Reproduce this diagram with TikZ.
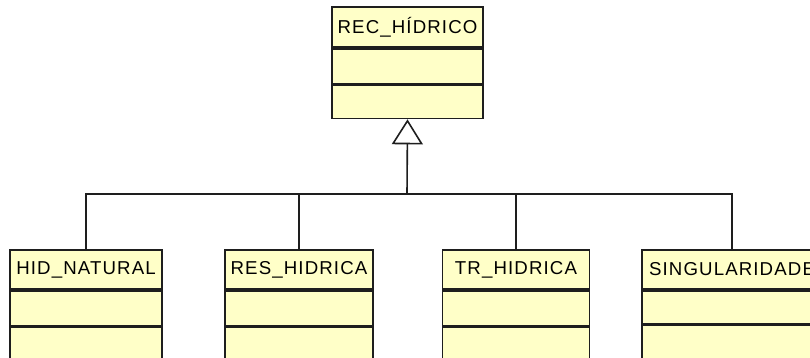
\documentclass[tikz,border=0pt]{standalone}
\usepackage{fontspec}
\setmainfont{Liberation Sans}[LetterSpace=6]
\usetikzlibrary{arrows.meta}
\definecolor{clsfill}{RGB}{255,255,200}
\definecolor{clsline}{RGB}{30,30,30}
\tikzset{
  hdr/.style={draw=clsline, fill=clsfill, line width=1.3pt, inner sep=0pt,
    font=\fontsize{14pt}{16pt}\selectfont, minimum height=29.25pt},
  cmp/.style={draw=clsline, fill=clsfill, line width=1.3pt, inner sep=0pt, anchor=north},
  conn/.style={draw=clsline, line width=1.2pt},
  gen/.style={conn, -{Triangle[open, length=18.75pt, width=23.25pt, fill=white]}}
}
\begin{document}
\begin{tikzpicture}[x=0.75pt, y=-0.75pt]
\fill[white] (0,0) rectangle (810,357);
\clip (0,0) rectangle (810,357);
\useasboundingbox (0,0) rectangle (810,357);
% top class
\node[hdr, minimum width=113.25pt, minimum height=30pt] (rec) at (407.5,27) {REC\_HÍDRICO};
\node[cmp, minimum width=113.25pt, minimum height=26.25pt] (reca) at (rec.south) {};
\node[cmp, minimum width=113.25pt, minimum height=24.75pt] (recb) at (reca.south) {};
% bottom classes
\node[hdr, minimum width=114pt] (hid) at (86,269.5) {HID\_NATURAL};
\node[cmp, minimum width=114pt, minimum height=26.25pt] (hida) at (hid.south) {};
\node[cmp, minimum width=114pt, minimum height=40pt] (hidb) at (hida.south) {};
\node[hdr, minimum width=111pt] (res) at (299,269.5) {RES\_HIDRICA};
\node[cmp, minimum width=111pt, minimum height=26.25pt] (resa) at (res.south) {};
\node[cmp, minimum width=111pt, minimum height=40pt] (resb) at (resa.south) {};
\node[hdr, minimum width=110.25pt] (tr) at (516,269.5) {TR\_HIDRICA};
\node[cmp, minimum width=110.25pt, minimum height=26.25pt] (tra) at (tr.south) {};
\node[cmp, minimum width=110.25pt, minimum height=40pt] (trb) at (tra.south) {};
\node[hdr, minimum width=135pt] (sing) at (732,269.5) {SINGULARIDADE};
\node[cmp, minimum width=135pt, minimum height=24.75pt] (singa) at (sing.south) {};
\node[cmp, minimum width=135pt, minimum height=40pt] (singb) at (singa.south) {};
% connectors
\coordinate (j) at (407,194);
\draw[conn] (hid.north) |- (j);
\draw[conn] (res.north) |- (j);
\draw[conn] (tr.north) |- (j);
\draw[conn] (sing.north) |- (j);
\draw[gen] (j) -- (recb.south);
\end{tikzpicture}
\end{document}
